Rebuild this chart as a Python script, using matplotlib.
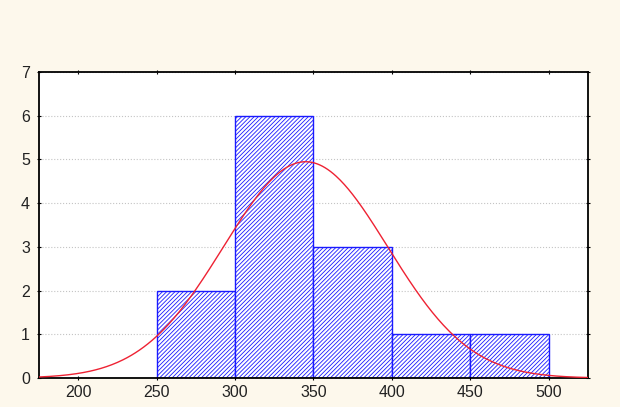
import numpy as np
import matplotlib
matplotlib.use("Agg")
import matplotlib.pyplot as plt

# histogram data
bin_edges = [250, 300, 350, 400, 450, 500]
counts = [2, 6, 3, 1, 1]
# fitted normal curve parameters (estimated)
mean = 345.0
sd = 52.4
x_ticks = [200, 250, 300, 350, 400, 450, 500]
y_ticks = [0, 1, 2, 3, 4, 5, 6, 7]

plt.rcParams['font.family'] = ['Liberation Sans', 'DejaVu Sans']
plt.rcParams['hatch.linewidth'] = 0.6
plt.rcParams['hatch.color'] = '#2a2ae6'

fig = plt.figure(figsize=(6.2, 4.07), dpi=100, facecolor='#fdf8ec')
ax = fig.add_axes([0.063, 0.071, 0.885, 0.752])
ax.set_facecolor('white')

widths = np.diff(bin_edges)
ax.bar(bin_edges[:-1], counts, width=widths, align='edge', color='white',
       edgecolor='#1a1aff', linewidth=1.0, hatch='////////', zorder=2)

n = sum(counts)
bw = widths[0]
xs = np.linspace(175, 525, 400)
ys = n * bw / (sd * np.sqrt(2 * np.pi)) * np.exp(-(xs - mean) ** 2 / (2 * sd ** 2))
ax.plot(xs, ys, color='#ee2233', linewidth=1.0, zorder=3)

ax.set_xlim(175, 525)
ax.set_ylim(0, 7)
ax.set_xticks(x_ticks)
ax.set_yticks(y_ticks)
ax.yaxis.grid(True, linestyle=':', color='#c4c4c4', linewidth=0.8, zorder=0)
ax.set_axisbelow(True)
ax.tick_params(axis='both', labelsize=11.5, colors='black', length=3,
               direction='inout', top=True, right=True, labelcolor='#222222')
ax.tick_params(axis='y', pad=5)
for s in ax.spines.values():
    s.set_linewidth(1.3)

fig.savefig('out.png', dpi=100, facecolor=fig.get_facecolor())
